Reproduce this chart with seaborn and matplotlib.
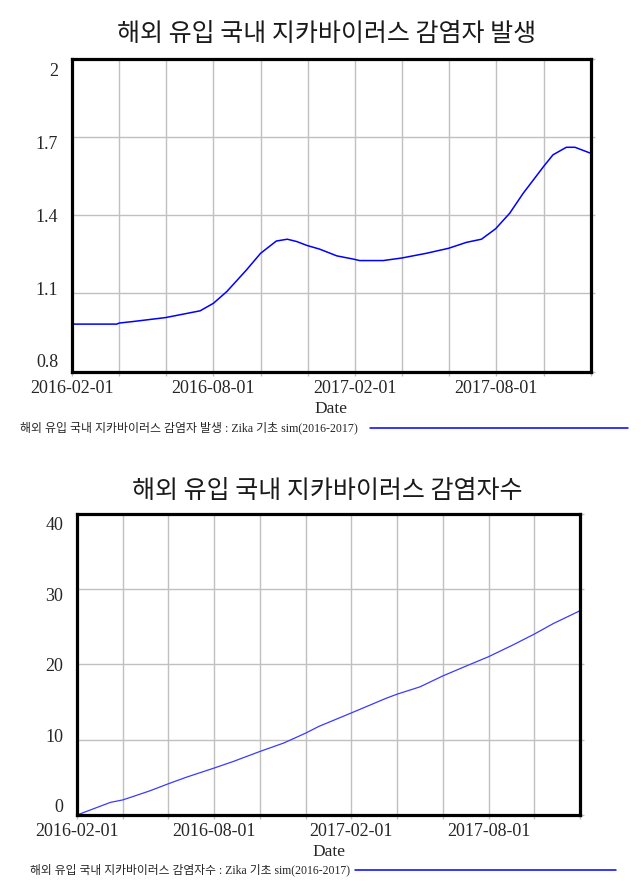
import matplotlib
matplotlib.use("Agg")
import matplotlib.pyplot as plt
import seaborn as sns
import pandas as pd
from matplotlib.transforms import ScaledTranslation
from matplotlib.lines import Line2D

# ---------------- data ----------------
title_top = "해외 유입 국내 지카바이러스 감염자 발생"
title_bottom = "해외 유입 국내 지카바이러스 감염자수"
legend_top = "해외 유입 국내 지카바이러스 감염자 발생 : Zika 기초 sim(2016-2017)"
legend_bottom = "해외 유입 국내 지카바이러스 감염자수 : Zika 기초 sim(2016-2017)"
x_label = "Date"

# simulation day (0 = 2016-02-01)
days_top = [0, 57, 60, 78, 119, 163, 180, 197, 222, 240, 260, 274, 286, 299,
            315, 337, 359, 366, 396, 420, 451, 479, 502, 521, 539, 557, 574,
            600, 612, 629, 640, 660]
rate_top = [0.982, 0.982, 0.986, 0.992, 1.007, 1.033, 1.062, 1.107, 1.19,
            1.254, 1.301, 1.308, 1.299, 1.284, 1.270, 1.244, 1.231, 1.226,
            1.226, 1.236, 1.254, 1.273, 1.296, 1.308, 1.348, 1.408, 1.484,
            1.587, 1.632, 1.661, 1.661, 1.638]

days_bottom = [0, 44, 60, 74, 96, 120, 144, 180, 205, 240, 271, 300, 317,
               359, 406, 420, 450, 480, 511, 540, 572, 600, 625, 660]
count_bottom = [0.0, 1.68, 2.0, 2.47, 3.22, 4.15, 5.03, 6.23, 7.1, 8.43,
                9.54, 10.86, 11.74, 13.5, 15.5, 16.03, 17.0, 18.45, 19.78,
                21.0, 22.56, 24.0, 25.4, 27.1]

x_ticks = list(range(0, 661, 60))
x_tick_labels = ["2016-02-01", "", "", "2016-08-01", "", "", "2017-02-01",
                 "", "", "2017-08-01", "", ""]
y_ticks_top = [0.8, 1.1, 1.4, 1.7, 2.0]
y_tick_labels_top = ["0.8", "1.1", "1.4", "1.7", "2"]
y_ticks_bottom = [0, 10, 20, 30, 40]
y_tick_labels_bottom = ["0", "10", "20", "30", "40"]

# ---------------- style ----------------
sns.set_style("white")
plt.rcParams["font.family"] = ["Liberation Serif", "Noto Sans CJK KR", "DejaVu Sans"]

W, H = 641, 881
fig = plt.figure(figsize=(W / 100, H / 100), dpi=100)


def fx(px):
    return px / W


def fy(py):
    return 1 - py / H


ax1 = fig.add_axes([fx(72), fy(371.5), fx(590.7 - 72), (371.5 - 59) / H])
ax2 = fig.add_axes([fx(77), fy(815), fx(580 - 77), (815 - 513.5) / H])

df_top = pd.DataFrame({"day": days_top, "value": rate_top})
df_bot = pd.DataFrame({"day": days_bottom, "value": count_bottom})

sns.lineplot(data=df_top, x="day", y="value", ax=ax1, color="#0000ff", lw=1.1)
sns.lineplot(data=df_bot, x="day", y="value", ax=ax2, color="#3a3aff", lw=0.9)


def style_axes(ax, yticks, ylabels, ylim, shifts_px):
    ax.set_xlim(0, 660)
    ax.set_ylim(*ylim)
    ax.set_xticks(x_ticks)
    ax.set_xticklabels(x_tick_labels, fontsize=13, family="Liberation Serif")
    ax.set_yticks(yticks)
    ax.set_yticklabels(ylabels, fontsize=13, family="Liberation Serif")
    ax.grid(True, color="#c0c0c0", lw=1.0)
    ax.tick_params(axis="both", which="both", length=3, width=1.0,
                   color="#c0c0c0", direction="out", right=True, bottom=True,
                   left=False, top=False, pad=2)
    ax.tick_params(axis="y", pad=7)
    ax.tick_params(axis="x", pad=3)
    for sp in ax.spines.values():
        sp.set_visible(True)
        sp.set_color("black")
        sp.set_linewidth(2.3)
    ax.set_xlabel(x_label, fontsize=12.5, family="Liberation Serif", labelpad=3)
    ax.set_ylabel("")
    for lab, s in zip(ax.get_yticklabels(), shifts_px):
        lab.set_transform(lab.get_transform() +
                          ScaledTranslation(0, s / 100, fig.dpi_scale_trans))


style_axes(ax1, y_ticks_top, y_tick_labels_top, (0.8, 2.0),
           [11, 5, 0, -5, -11])
style_axes(ax2, y_ticks_bottom, y_tick_labels_bottom, (0, 40),
           [9, 4, 0, -6, -10])

cjk = ["Noto Sans CJK KR", "DejaVu Sans"]
fig.text(fx(327), fy(34), title_top, ha="center", va="center",
         fontsize=18, family=cjk, weight="light", color="#1a1a1a")
fig.text(fx(327), fy(491), title_bottom, ha="center", va="center",
         fontsize=18, family=cjk, weight="light", color="#1a1a1a")

mixed = ["Liberation Serif", "Noto Sans CJK KR", "DejaVu Sans"]
fig.text(fx(20), fy(428), legend_top, ha="left", va="center",
         fontsize=8.6, family=mixed)
fig.text(fx(30), fy(870), legend_bottom, ha="left", va="center",
         fontsize=8.5, family=mixed)
fig.add_artist(Line2D([fx(370), fx(628)], [fy(428), fy(428)],
                      color="#0000ff", lw=1.1, transform=fig.transFigure))
fig.add_artist(Line2D([fx(355), fx(616)], [fy(870), fy(870)],
                      color="#0000ff", lw=1.1, transform=fig.transFigure))

fig.savefig("out.png", dpi=100)
